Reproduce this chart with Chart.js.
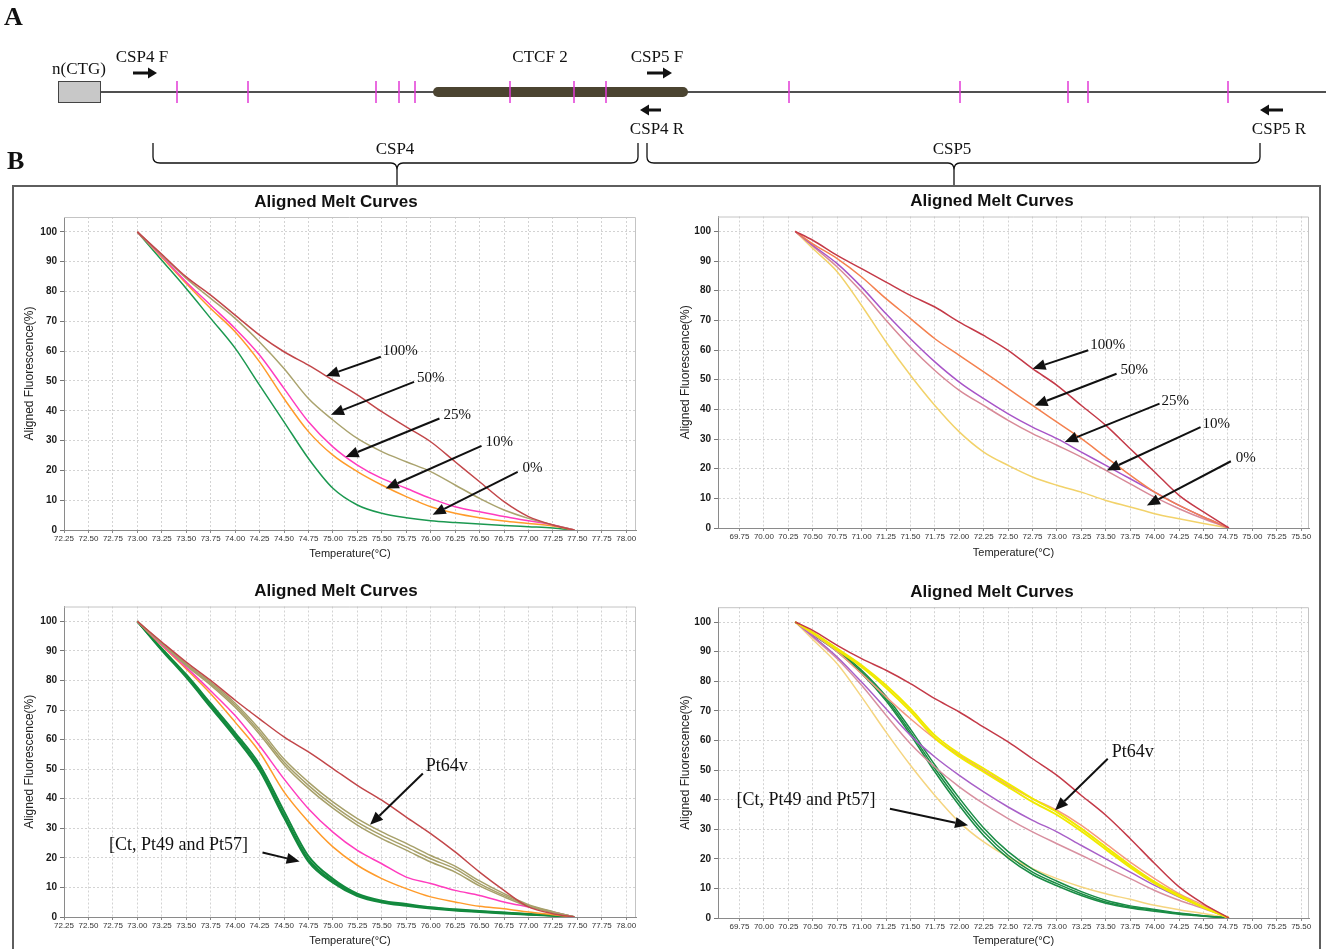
<!DOCTYPE html>
<html>
<head>
<meta charset="utf-8">
<title>Aligned Melt Curves</title>
<script src="https://cdn.jsdelivr.net/npm/chart.js@4.4.1/dist/chart.umd.min.js"></script>
<style>
  body { margin: 0; background: #fff; }
  #page { position: relative; width: 1326px; height: 949px; overflow: hidden; }
  #page canvas { position: absolute; }
</style>
</head>
<body>
<div id="page">
  <canvas id="map" width="1326" height="949" style="left:0;top:0"></canvas>
  <canvas id="csp4Dilution" width="636" height="377" style="left:14px;top:188px"></canvas>
  <canvas id="csp5Dilution" width="648" height="377" style="left:670px;top:188px"></canvas>
  <canvas id="csp4Patients" width="636" height="371" style="left:14px;top:578px"></canvas>
  <canvas id="csp5Patients" width="648" height="371" style="left:670px;top:578px"></canvas>
</div>
<script>
// ---- panel A: region map (positions along the drawn track) ----
const repeatBox = [58, 100];
const ctcfBlock = [438, 683];
const trackEnd = 1326;
const siteMarks = [177, 248, 376, 399, 415, 510, 574, 606, 789, 960, 1068, 1088, 1228];
const primerNames = ['CSP4 F', 'CSP5 F', 'CSP4 R', 'CSP5 R'];
const primerFrom = [133, 647, 661, 1283];
const primerTo = [157, 672, 640, 1260];
const primerLabelX = [142, 657, 657, 1279];
const ampliconNames = ['CSP4', 'CSP5'];
const ampliconFrom = [153, 647];
const ampliconTo = [638, 1260];
const ampliconTip = [397, 954];

// ---- panel B: temperatures (°C) where the curves were read ----
const tempsCSP4 = [73.00, 73.25, 73.50, 73.75, 74.00, 74.25, 74.50, 74.75, 75.00, 75.25, 75.50, 75.75, 76.00, 76.25, 76.50, 76.75, 77.00, 77.25, 77.47];
const tempsCSP5 = [70.32, 70.50, 70.75, 71.00, 71.25, 71.50, 71.75, 72.00, 72.25, 72.50, 72.75, 73.00, 73.25, 73.50, 73.75, 74.00, 74.25, 74.50, 74.76];

// CSP4 dilution standards (aligned fluorescence %)
const csp4Mix100 = [100, 92.5, 84.9, 78.8, 72.1, 65.4, 59.8, 55.3, 50.3, 45.3, 39.7, 34.6, 29.6, 22.9, 16.2, 9.5, 4.5, 1.7, 0];
const csp4Mix50 = [100, 92.2, 84.4, 77.7, 71.0, 63.1, 54.2, 44.1, 36.9, 30.7, 26.3, 22.9, 19.6, 15.1, 10.6, 6.7, 3.9, 1.7, 0];
const csp4Mix25 = [100, 91.8, 83.2, 75.4, 67.6, 58.7, 47.5, 36.3, 27.9, 21.8, 17.3, 14.0, 10.6, 7.8, 6.1, 4.5, 3.1, 1.7, 0];
const csp4Mix10 = [100, 91.5, 82.7, 74.3, 66.5, 56.4, 44.1, 33.0, 25.1, 19.6, 15.1, 11.2, 7.8, 5.6, 4.1, 3.0, 2.2, 1.3, 0];
const csp4Mix0 = [100, 90.5, 81.0, 71.0, 61.0, 48.6, 36.3, 24.0, 14.0, 8.4, 5.6, 4.1, 3.1, 2.5, 2.0, 1.5, 1.1, 0.7, 0];

// CSP5 dilution standards
const csp5Mix100 = [100, 97.0, 91.9, 87.4, 82.9, 78.4, 74.5, 69.4, 64.9, 59.9, 53.7, 48.1, 41.3, 34.6, 26.7, 18.9, 11.0, 5.4, 0];
const csp5Mix50 = [100, 95.8, 90.8, 84.6, 77.3, 70.6, 63.8, 58.2, 52.6, 47.0, 41.3, 35.7, 30.1, 23.9, 17.8, 12.1, 7.6, 3.7, 0];
const csp5Mix25 = [100, 95.3, 89.1, 81.2, 72.2, 63.8, 56.0, 49.2, 43.6, 38.5, 34.0, 30.1, 25.6, 21.1, 16.6, 12.1, 7.6, 3.7, 0];
const csp5Mix10 = [100, 95.0, 88.0, 79.6, 70.0, 61.0, 53.1, 46.4, 41.3, 36.3, 31.8, 27.9, 23.9, 19.4, 14.9, 10.4, 6.5, 3.1, 0];
const csp5Mix0 = [100, 94.2, 86.4, 75.0, 62.7, 51.5, 41.3, 32.4, 25.6, 21.1, 17.2, 14.4, 12.1, 9.3, 7.1, 4.8, 3.1, 1.5, 0];

// CSP4 with patient samples
const csp4Std100 = [100, 93.0, 86.2, 80.0, 73.3, 67.0, 60.9, 55.8, 50.2, 44.5, 39.5, 33.8, 28.2, 22.0, 15.2, 9.0, 3.4, 1.1, 0];
const csp4Std25 = [100, 92.0, 84.4, 76.5, 68.1, 57.9, 46.7, 36.6, 28.7, 22.5, 18.0, 13.5, 11.3, 9.0, 7.3, 5.1, 3.4, 1.7, 0];
const csp4Std10 = [100, 91.8, 83.9, 75.5, 65.9, 55.8, 42.3, 32.2, 23.7, 17.5, 13.0, 9.6, 6.8, 5.1, 3.6, 2.8, 1.7, 0.8, 0];
const csp4Pt64vA = [100, 92.5, 85.3, 78.9, 71.6, 62.6, 52.4, 44.5, 37.8, 32.1, 27.6, 23.7, 19.7, 16.3, 11.3, 7.3, 3.9, 1.7, 0];
const csp4Pt64vB = [100, 92.6, 85.6, 79.4, 72.3, 63.5, 53.4, 45.6, 38.9, 33.3, 28.8, 24.9, 20.8, 17.2, 12.2, 7.9, 4.2, 1.8, 0];
const csp4Pt64vC = [100, 92.4, 85.0, 78.4, 70.9, 61.8, 51.5, 43.5, 36.8, 31.1, 26.5, 22.6, 18.6, 15.2, 10.5, 6.8, 3.6, 1.5, 0];
const csp4Ct = [100, 90.5, 81.5, 71.5, 61.5, 50.5, 34.5, 19.5, 12.2, 7.5, 5.2, 4.1, 3.1, 2.4, 1.9, 1.4, 0.9, 0.5, 0];
const csp4Pt49 = [100, 90.8, 82.0, 72.2, 62.3, 51.5, 35.8, 20.6, 12.9, 7.9, 5.5, 4.4, 3.3, 2.6, 2.0, 1.5, 1.0, 0.5, 0];
const csp4Pt57 = [100, 90.2, 81.0, 70.9, 60.8, 49.6, 33.6, 18.7, 11.6, 7.1, 4.9, 3.8, 2.9, 2.2, 1.7, 1.2, 0.8, 0.4, 0];

// CSP5 with patient samples
const csp5Std100 = [100, 97.2, 92.1, 87.6, 83.7, 79.2, 74.1, 69.6, 64.5, 59.5, 53.8, 48.2, 41.4, 34.7, 26.8, 18.4, 10.5, 4.8, 0];
const csp5Std50 = [100, 95.9, 90.0, 82.5, 74.7, 67.3, 60.6, 55.0, 49.9, 44.8, 40.3, 36.4, 31.3, 25.1, 18.9, 13.3, 8.2, 4.3, 0];
const csp5Std25 = [100, 95.3, 88.2, 79.7, 70.7, 61.7, 54.4, 48.2, 42.6, 37.5, 33.0, 29.1, 24.5, 20.0, 15.5, 11.0, 7.1, 3.7, 0];
const csp5Std10 = [100, 94.9, 87.6, 78.6, 68.5, 58.9, 51.0, 44.3, 38.6, 33.6, 29.1, 25.1, 21.2, 17.2, 13.3, 9.3, 6.0, 3.2, 0];
const csp5Std0 = [100, 94.1, 85.9, 74.7, 62.8, 51.6, 41.4, 32.4, 25.7, 20.6, 16.7, 13.3, 10.5, 8.2, 6.3, 4.3, 2.8, 1.5, 0];
const csp5Pt64vA = [100, 96.5, 91.0, 85.4, 78.6, 70.7, 61.7, 55.5, 50.5, 45.4, 40.3, 35.8, 30.2, 24.0, 17.8, 12.2, 7.7, 3.7, 0];
const csp5Pt64vB = [100, 96.3, 90.6, 84.8, 77.8, 69.8, 60.8, 54.5, 49.4, 44.3, 39.2, 34.8, 29.3, 23.2, 17.1, 11.7, 7.3, 3.5, 0];
const csp5Ct = [100, 95.9, 90.4, 83.1, 74.1, 62.8, 50.5, 39.2, 29.1, 21.2, 15.5, 11.6, 8.2, 5.4, 3.7, 2.6, 1.5, 0.7, 0];
const csp5Pt49 = [100, 96.1, 90.8, 83.7, 74.9, 63.8, 51.7, 40.5, 30.4, 22.4, 16.5, 12.4, 8.9, 6.0, 4.1, 2.9, 1.7, 0.8, 0];
const csp5Pt57 = [100, 95.7, 90.0, 82.6, 73.4, 61.9, 49.4, 38.0, 27.9, 20.2, 14.7, 10.9, 7.6, 5.0, 3.4, 2.3, 1.3, 0.6, 0];

// arrow labels: text at [temp, %], arrow from tail to tip
const csp4DilutionNotes = [
  {text: '100%', at: [75.51, 60.1], tail: [75.49, 58.1], tip: [74.93, 51.7]},
  {text: '50%', at: [75.86, 51.0], tail: [75.83, 49.7], tip: [74.98, 38.7]},
  {text: '25%', at: [76.13, 38.5], tail: [76.09, 37.4], tip: [75.13, 24.5]},
  {text: '10%', at: [76.56, 29.5], tail: [76.52, 28.2], tip: [75.54, 13.9]},
  {text: '0%', at: [76.94, 20.8], tail: [76.89, 19.5], tip: [76.02, 5.1]}
];
const csp5DilutionNotes = [
  {text: '100%', at: [73.34, 61.6], tail: [73.32, 59.9], tip: [72.75, 53.7]},
  {text: '50%', at: [73.65, 53.4], tail: [73.61, 52.0], tip: [72.77, 41.3]},
  {text: '25%', at: [74.07, 42.8], tail: [74.05, 41.9], tip: [73.08, 29.0]},
  {text: '10%', at: [74.49, 35.2], tail: [74.47, 34.0], tip: [73.51, 19.4]},
  {text: '0%', at: [74.83, 23.6], tail: [74.78, 22.5], tip: [73.92, 7.6]}
];
const csp4PatientNotes = [
  {text: 'Pt64v', at: [75.95, 51.1], tail: [75.92, 48.5], tip: [75.38, 31.2]},
  {text: '[Ct, Pt49 and Pt57]', at: [72.71, 24.2], tail: [74.28, 21.8], tip: [74.66, 18.8]}
];
const csp5PatientNotes = [
  {text: 'Pt64v', at: [73.56, 56.1], tail: [73.52, 53.8], tip: [72.98, 36.4]},
  {text: '[Ct, Pt49 and Pt57]', at: [69.72, 39.9], tail: [71.29, 36.9], tip: [72.09, 31.3]}
];

const SERIF = '"Liberation Serif", "Times New Roman", serif';
Chart.defaults.font.family = '"Liberation Sans", Arial, sans-serif';

function series(xs, ys) {
  return xs.map((x, i) => ({x: x, y: ys[i]}));
}

function arrow(ctx, x1, y1, x2, y2, len, half, lw) {
  const a = Math.atan2(y2 - y1, x2 - x1);
  const bx = x2 - Math.cos(a) * len, by = y2 - Math.sin(a) * len;
  ctx.lineWidth = lw;
  ctx.beginPath();
  ctx.moveTo(x1, y1);
  ctx.lineTo(bx, by);
  ctx.stroke();
  ctx.beginPath();
  ctx.moveTo(x2, y2);
  ctx.lineTo(bx + Math.sin(a) * half, by - Math.cos(a) * half);
  ctx.lineTo(bx - Math.sin(a) * half, by + Math.cos(a) * half);
  ctx.closePath();
  ctx.fill();
}

// light frame on top and right of the plot
const framePlugin = {
  id: 'frame',
  beforeDatasetsDraw(chart) {
    const {ctx, chartArea: a} = chart;
    ctx.save();
    ctx.strokeStyle = '#c4c4c4';
    ctx.lineWidth = 1;
    ctx.beginPath();
    ctx.moveTo(a.left, a.top + 0.5);
    ctx.lineTo(a.right - 0.5, a.top + 0.5);
    ctx.lineTo(a.right - 0.5, a.bottom);
    ctx.stroke();
    ctx.restore();
  }
};

const notesPlugin = {
  id: 'notes',
  afterDatasetsDraw(chart, args, opts) {
    const {ctx, scales: {x, y}} = chart;
    ctx.save();
    ctx.font = opts.size + 'px ' + SERIF;
    ctx.fillStyle = '#111';
    ctx.strokeStyle = '#111';
    ctx.textBaseline = 'middle';
    opts.items.forEach(n => {
      ctx.fillText(n.text, x.getPixelForValue(n.at[0]), y.getPixelForValue(n.at[1]));
      arrow(ctx, x.getPixelForValue(n.tail[0]), y.getPixelForValue(n.tail[1]),
        x.getPixelForValue(n.tip[0]), y.getPixelForValue(n.tip[1]), 13, 5.5, 2);
    });
    ctx.restore();
  }
};

function meltChart(id, cfg) {
  const gridColor = '#d3d3d3';
  return new Chart(document.getElementById(id), {
    type: 'line',
    data: {
      datasets: cfg.lines.map(l => ({
        data: series(cfg.temps, l.values),
        borderColor: l.color,
        borderWidth: l.width || 1.5,
        pointRadius: 0,
        cubicInterpolationMode: 'monotone',
        fill: false
      }))
    },
    options: {
      responsive: false,
      animation: false,
      events: [],
      layout: {padding: cfg.pad, autoPadding: false},
      plugins: {
        legend: {display: false},
        tooltip: {enabled: false},
        title: {
          display: true,
          text: 'Aligned Melt Curves',
          color: '#111',
          font: {size: 17, weight: 'bold'},
          padding: cfg.titlePad
        },
        notes: {items: cfg.notes, size: cfg.noteSize}
      },
      scales: {
        x: {
          type: 'linear',
          min: cfg.xMin,
          max: cfg.xMax,
          afterFit: s => { s.height = cfg.xAxisH; },
          ticks: {
            stepSize: 0.25, autoSkip: false, maxRotation: 0, includeBounds: false,
            padding: 1, color: '#333',
            font: {family: '"Liberation Sans Narrow", "Liberation Sans", Arial, sans-serif', size: 8},
            callback: v => v.toFixed(2)
          },
          grid: {color: gridColor, tickColor: '#888', tickLength: 3},
          border: {color: '#8a8a8a', dash: [2, 2]},
          title: {
            display: true, text: 'Temperature(°C)', color: '#222',
            font: {size: 11}, padding: {top: 0, bottom: cfg.xTitlePad}
          }
        },
        y: {
          min: 0,
          max: 105,
          afterFit: s => { s.width = cfg.yAxisW; },
          ticks: {
            stepSize: 10, includeBounds: false, padding: 3, color: '#1a1a1a',
            font: {size: 10, weight: 'bold'}
          },
          grid: {color: gridColor, tickColor: '#777', tickLength: 4},
          border: {color: '#8a8a8a', dash: [2, 2]},
          title: {
            display: true, text: 'Aligned Fluorescence(%)', color: '#222',
            font: {size: 12}, padding: {top: cfg.yTitlePad, bottom: 0}
          }
        }
      }
    },
    plugins: [framePlugin, notesPlugin]
  });
}

// ---- panel A ----
const mapPlugin = {
  id: 'mapDecor',
  afterDatasetsDraw(chart) {
    const {ctx, scales: {x, y}} = chart;
    const px = v => x.getPixelForValue(v);
    const py = v => y.getPixelForValue(v);
    ctx.save();
    // n(CTG) repeat box
    ctx.fillStyle = '#c8c8c8';
    ctx.strokeStyle = '#444';
    ctx.lineWidth = 1;
    ctx.fillRect(px(repeatBox[0]), py(81), px(repeatBox[1]) - px(repeatBox[0]), py(102) - py(81));
    ctx.strokeRect(px(repeatBox[0]) + 0.5, py(81) + 0.5, px(repeatBox[1]) - px(repeatBox[0]), py(102) - py(81));

    ctx.fillStyle = '#111';
    ctx.strokeStyle = '#111';
    ctx.textBaseline = 'middle';
    ctx.font = 'bold 26px ' + SERIF;
    ctx.fillText('A', px(4), py(18));
    ctx.fillText('B', px(7), py(162));

    ctx.font = '17px ' + SERIF;
    ctx.textAlign = 'center';
    ctx.fillText('n(CTG)', px((repeatBox[0] + repeatBox[1]) / 2), py(70));
    ctx.fillText('CTCF 2', px(540), py(58));

    primerNames.forEach((name, i) => {
      const fwd = primerTo[i] > primerFrom[i];
      ctx.fillText(name, px(primerLabelX[i]), py(fwd ? 58 : 130));
      const ay = py(fwd ? 73 : 110);
      arrow(ctx, px(primerFrom[i]), ay, px(primerTo[i]), ay, 9, 5.5, 3);
    });

    // amplicon braces
    ctx.lineWidth = 1.3;
    const top = py(143), mid = py(163), stem = py(186);
    ampliconNames.forEach((name, i) => {
      const a = px(ampliconFrom[i]), b = px(ampliconTo[i]), t = px(ampliconTip[i]);
      ctx.beginPath();
      ctx.moveTo(a, top);
      ctx.lineTo(a, mid - 6);
      ctx.quadraticCurveTo(a, mid, a + 7, mid);
      ctx.lineTo(t - 6, mid);
      ctx.quadraticCurveTo(t, mid, t, mid + 7);
      ctx.lineTo(t, stem);
      ctx.moveTo(t, mid + 7);
      ctx.quadraticCurveTo(t, mid, t + 6, mid);
      ctx.lineTo(b - 7, mid);
      ctx.quadraticCurveTo(b, mid, b, mid - 6);
      ctx.lineTo(b, top);
      ctx.stroke();
      ctx.fillText(name, t - 2, py(150));
    });

    // panel B frame
    ctx.strokeStyle = '#5e5e5e';
    ctx.lineWidth = 2;
    ctx.strokeRect(px(13), py(186), px(1320) - px(13), py(990) - py(186));
    ctx.restore();
  }
};

new Chart(document.getElementById('map'), {
  type: 'scatter',
  data: {
    datasets: [
      {
        data: siteMarks.map(v => ({x: v, y: 92})),
        pointStyle: 'line', pointRotation: 90, pointRadius: 11,
        pointBorderColor: '#e23ad6', pointBorderWidth: 1.5, showLine: false
      },
      {
        data: [{x: ctcfBlock[0], y: 92}, {x: ctcfBlock[1], y: 92}],
        showLine: true, borderColor: '#4b4431', borderWidth: 10, borderCapStyle: 'round', pointRadius: 0
      },
      {
        data: [{x: repeatBox[1], y: 92}, {x: trackEnd, y: 92}],
        showLine: true, borderColor: '#505050', borderWidth: 2, pointRadius: 0
      }
    ]
  },
  options: {
    responsive: false,
    animation: false,
    events: [],
    layout: {padding: 0, autoPadding: false},
    plugins: {legend: {display: false}, tooltip: {enabled: false}},
    scales: {
      x: {type: 'linear', min: 0, max: 1326, display: false},
      y: {type: 'linear', min: 0, max: 949, reverse: true, display: false}
    }
  },
  plugins: [mapPlugin]
});

// ---- panel B ----
meltChart('csp4Dilution', {
  temps: tempsCSP4, xMin: 72.25, xMax: 78.10,
  pad: {left: 22, right: 14, top: 0, bottom: 0},
  titlePad: {top: 4, bottom: 4.6}, xAxisH: 35, yAxisW: 28, xTitlePad: 4.4, yTitlePad: -13.2,
  notes: csp4DilutionNotes, noteSize: 15,
  lines: [
    {values: csp4Mix100, color: '#c2474a'},
    {values: csp4Mix50, color: '#aaa36e'},
    {values: csp4Mix25, color: '#ff3cbe'},
    {values: csp4Mix10, color: '#ff9b2a'},
    {values: csp4Mix0, color: '#1b9850'}
  ]
});

meltChart('csp5Dilution', {
  temps: tempsCSP5, xMin: 69.53, xMax: 75.58,
  pad: {left: 5, right: 9, top: 0, bottom: 0},
  titlePad: {top: 3.5, bottom: 4.6}, xAxisH: 37, yAxisW: 43, xTitlePad: 5.4, yTitlePad: 3.8,
  notes: csp5DilutionNotes, noteSize: 15,
  lines: [
    {values: csp5Mix100, color: '#c43a48'},
    {values: csp5Mix50, color: '#f4814f'},
    {values: csp5Mix25, color: '#a855c8'},
    {values: csp5Mix10, color: '#d88a98'},
    {values: csp5Mix0, color: '#f2d26a'}
  ]
});

meltChart('csp4Patients', {
  temps: tempsCSP4, xMin: 72.25, xMax: 78.10,
  pad: {left: 22, right: 14, top: 0, bottom: 0},
  titlePad: {top: 3, bottom: 5.1}, xAxisH: 32, yAxisW: 28, xTitlePad: 1.4, yTitlePad: -13.2,
  notes: csp4PatientNotes, noteSize: 18,
  lines: [
    {values: csp4Std100, color: '#c2474a'},
    {values: csp4Pt64vA, color: '#a7a06a'},
    {values: csp4Pt64vB, color: '#a7a06a'},
    {values: csp4Pt64vC, color: '#a7a06a'},
    {values: csp4Std25, color: '#ff3cbe'},
    {values: csp4Std10, color: '#ff9b2a'},
    {values: csp4Ct, color: '#138a3e', width: 2},
    {values: csp4Pt49, color: '#138a3e', width: 2},
    {values: csp4Pt57, color: '#138a3e', width: 2}
  ]
});

meltChart('csp5Patients', {
  temps: tempsCSP5, xMin: 69.53, xMax: 75.58,
  pad: {left: 5, right: 9, top: 0, bottom: 0},
  titlePad: {top: 3.8, bottom: 5}, xAxisH: 31, yAxisW: 43, xTitlePad: 1.4, yTitlePad: 3.8,
  notes: csp5PatientNotes, noteSize: 18,
  lines: [
    {values: csp5Std100, color: '#c43a48'},
    {values: csp5Pt64vA, color: '#f0ea00', width: 2},
    {values: csp5Pt64vB, color: '#f0ea00', width: 2},
    {values: csp5Std50, color: '#f59a80'},
    {values: csp5Std25, color: '#a860c8'},
    {values: csp5Std10, color: '#d890a0'},
    {values: csp5Ct, color: '#1a8c45'},
    {values: csp5Pt49, color: '#1a8c45'},
    {values: csp5Pt57, color: '#1a8c45'},
    {values: csp5Std0, color: '#f5d580'}
  ]
});
</script>
</body>
</html>
